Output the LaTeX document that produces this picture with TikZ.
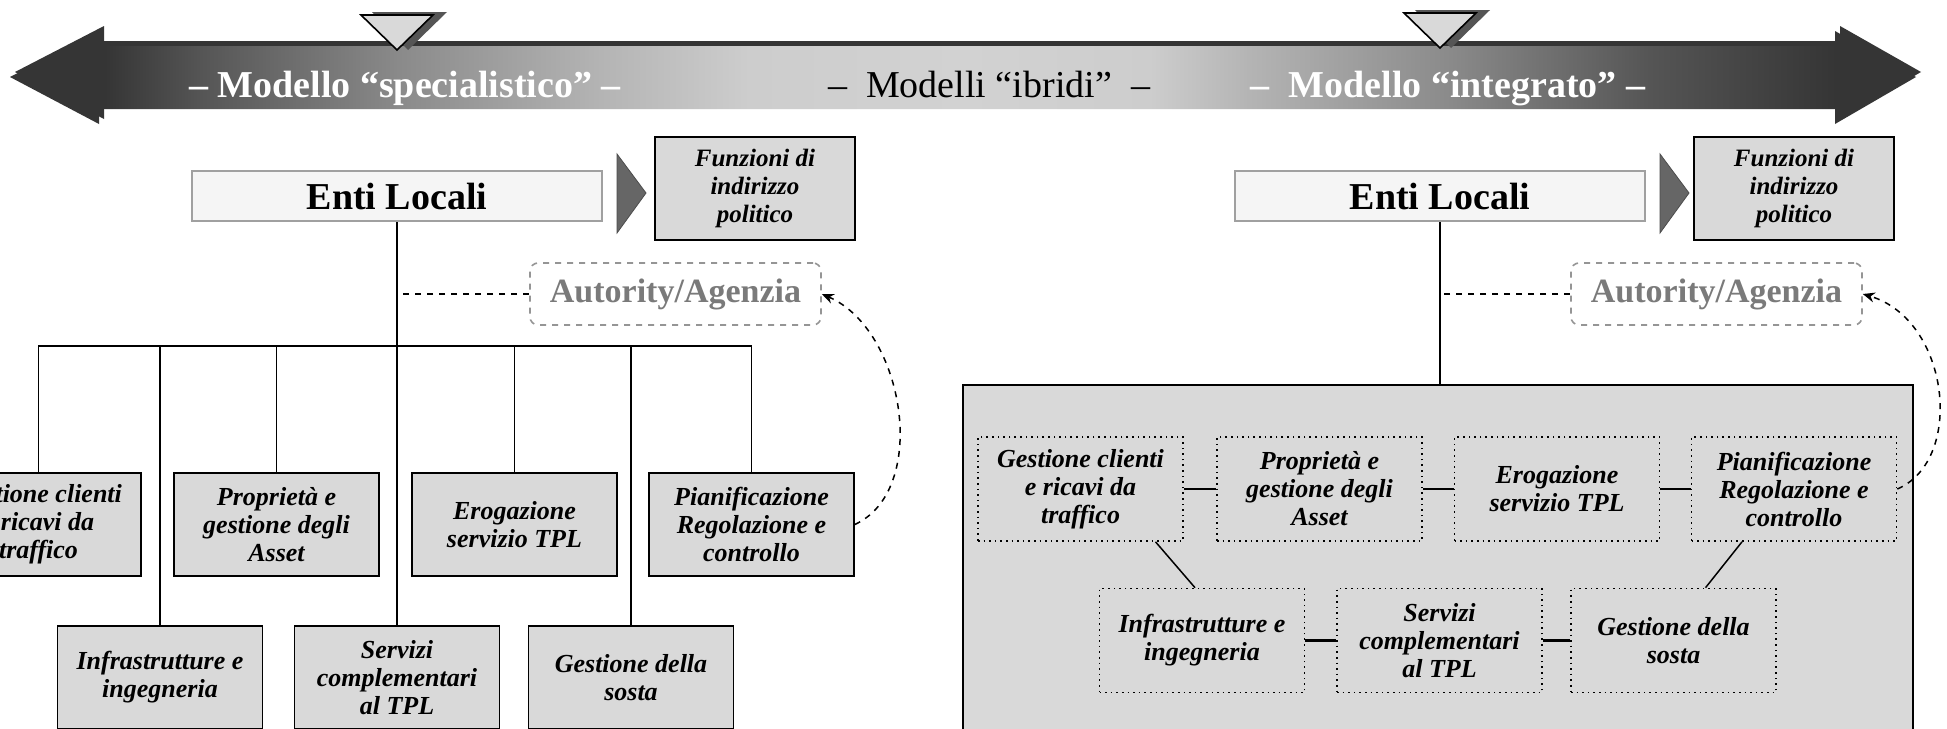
\documentclass[tikz,border=0pt]{standalone}
\usepackage{fontspec}
\setmainfont{Liberation Serif}
\usetikzlibrary{calc,arrows.meta}
\definecolor{boxgray}{HTML}{D9D9D9}
\definecolor{entifill}{HTML}{F5F5F5}
\definecolor{entiborder}{HTML}{A0A0A0}
\definecolor{autgray}{HTML}{7A7A7A}
\definecolor{ptrgray}{HTML}{666666}
\definecolor{shadowgray}{HTML}{555555}
\definecolor{sA}{HTML}{353535}
\definecolor{sB}{HTML}{555555}
\definecolor{sC}{HTML}{8A8A8A}
\definecolor{sD}{HTML}{B4B4B4}
\definecolor{sE}{HTML}{CDCDCD}
\definecolor{sF}{HTML}{D2D2D2}
\pgfdeclarehorizontalshading{arrowshade}{100bp}{color(0bp)=(sA); color(25bp)=(sA); color(27.5bp)=(sA); color(30bp)=(sB); color(35.2bp)=(sC); color(40.5bp)=(sD); color(44.4bp)=(sE); color(50bp)=(sF); color(54.9bp)=(sE); color(57.5bp)=(sD); color(62.8bp)=(sC); color(68bp)=(sB); color(72.9bp)=(sA); color(75bp)=(sA); color(100bp)=(sA)}
\tikzset{
  toplbl/.style={font=\fontsize{19pt}{22pt}\selectfont\bfseries, inner sep=0pt, anchor=base},
  midlbl/.style={font=\fontsize{19pt}{22pt}\selectfont, inner sep=0pt, anchor=base},
  enti/.style={draw=entiborder, line width=1.2pt, fill=entifill, minimum width=205pt, minimum height=25pt, inner sep=0pt, font=\fontsize{19pt}{22pt}\selectfont\bfseries},
  funbox/.style={draw, line width=0.8pt, fill=boxgray, minimum width=100pt, minimum height=51.5pt, inner sep=0pt, align=center, font=\fontsize{12.5pt}{14pt}\selectfont\bfseries\itshape},
  orgbox/.style={draw, line width=0.8pt, fill=boxgray, minimum width=102.5pt, minimum height=51.5pt, inner sep=0pt, align=center, font=\fontsize{13pt}{14pt}\selectfont\bfseries\itshape},
  dotbox/.style={draw, dotted, line width=0.8pt, minimum width=102.5pt, minimum height=52pt, inner sep=0pt, align=center, font=\fontsize{13pt}{14pt}\selectfont\bfseries\itshape},
  autbox/.style={draw=autgray!80, dashed, rounded corners=4pt, line width=0.8pt, minimum width=145.5pt, minimum height=31pt, inner sep=0pt, text=autgray, font=\fontsize{17pt}{20pt}\selectfont\bfseries},
  bigbox/.style={draw, line width=0.9pt, fill=boxgray, minimum width=475pt, minimum height=180pt, inner sep=0pt},
  conn/.style={line width=0.75pt},
  iconn/.style={line width=1.1pt},
  dconn/.style={line width=0.75pt, dashed},
  carrow/.style={line width=0.75pt, dashed, -{Stealth[length=6pt,width=5pt]}}
}
\begin{document}
\begin{tikzpicture}[x=0.5pt,y=-0.5pt]
\useasboundingbox (0,0) rectangle (1947,728);
\clip (0,0) rectangle (1947,728);
\fill[white] (0,0) rectangle (1947,728);

% ---- big double arrow ----
\begin{scope}[shift={(5,-5)}]
\fill[sA] (10,77) -- (99,31) -- (99,46) -- (1835,46) -- (1835,31) -- (1916,77) -- (1835,124) -- (1835,109) -- (99,109) -- (99,124) -- cycle;
\end{scope}
\shade[shading=arrowshade] (10,77) -- (99,31) -- (99,46) -- (1835,46) -- (1835,31) -- (1916,77) -- (1835,124) -- (1835,109) -- (99,109) -- (99,124) -- cycle;

% top markers
\fill[shadowgray] (372,12) -- (447,12) -- (408,50) -- cycle;
\draw[fill=boxgray, line width=0.8pt] (361,15) -- (433,15) -- (397,50) -- cycle;
\fill[shadowgray] (1415,10) -- (1490,10) -- (1451,48) -- cycle;
\draw[fill=boxgray, line width=0.8pt] (1404,13) -- (1476,13) -- (1440,48) -- cycle;

\node[toplbl, text=white] (lblA) at (405,97) {– Modello “specialistico” –};
\node[midlbl, text=black] (lblB) at (989,97) {–\ \ Modelli “ibridi”\ \ –};
\node[toplbl, text=white] (lblC) at (1448,97) {–\ \ Modello “integrato” –};

% ---- left panel ----
\node[enti] (e1) at (397,196) {Enti Locali};
\fill[ptrgray, draw=black!70, line width=0.4pt] (617,154) -- (646,193) -- (617,233) -- cycle;
\node[funbox] (f1) at (755,188.5) {Funzioni di\\indirizzo\\politico};
\node[autbox] (a1) at (675.5,294) {Autority/Agenzia};

\node[orgbox] (g1) at (38.5,524.5) {Gestione clienti\\e ricavi da\\traffico};
\node[orgbox] (p2) at (276.5,524.5) {Proprietà e\\gestione degli\\Asset};
\node[orgbox] (p3) at (514.5,524.5) {Erogazione\\servizio TPL};
\node[orgbox] (p4) at (751.5,524.5) {Pianificazione\\Regolazione e\\controllo};
\node[orgbox] (i1) at (160,677.5) {Infrastrutture e\\ingegneria};
\node[orgbox] (i2) at (397,677.5) {Servizi\\complementari\\al TPL};
\node[orgbox] (i3) at (631,677.5) {Gestione della\\sosta};

\coordinate (bar) at (397,346);
\draw[conn] (e1.south) -- (i2.north);
\draw[conn] (g1.north) -- (g1.north |- bar) -- (p4.north |- bar) -- (p4.north);
\draw[line width=1.3pt] (p2.north |- bar) -- (p3.north |- bar);
\draw[conn] (p2.north) -- (p2.north |- bar);
\draw[conn] (p3.north) -- (p3.north |- bar);
\draw[conn] (i1.north) -- (i1.north |- bar);
\draw[conn] (i3.north) -- (i3.north |- bar);
\draw[dconn] (a1.west) -- (a1.west -| e1.south);
\draw[carrow] (p4.east) .. controls (930,490) and (905,330) .. (a1.east);

% ---- right panel ----
\node[enti] (e2) at (1440,196) {Enti Locali};
\fill[ptrgray, draw=black!70, line width=0.4pt] (1660,154) -- (1689,193) -- (1660,233) -- cycle;
\node[funbox] (f2) at (1794,188.5) {Funzioni di\\indirizzo\\politico};
\node[autbox] (a2) at (1716.5,294) {Autority/Agenzia};

\node[bigbox] (big) at (1438,565) {};
\draw[conn] (e2.south) -- (big.north -| e2.south);
\draw[dconn] (a2.west) -- (a2.west -| e2.south);

\node[dotbox] (r1) at (1080.5,489) {Gestione clienti\\e ricavi da\\traffico};
\node[dotbox] (r2) at (1319.5,489) {Proprietà e\\gestione degli\\Asset};
\node[dotbox] (r3) at (1557,489) {Erogazione\\servizio TPL};
\node[dotbox] (r4) at (1794,489) {Pianificazione\\Regolazione e\\controllo};
\node[dotbox] (s1) at (1202,640.5) {Infrastrutture e\\ingegneria};
\node[dotbox] (s2) at (1439.5,640.5) {Servizi\\complementari\\al TPL};
\node[dotbox] (s3) at (1673.5,640.5) {Gestione della\\sosta};

\draw[iconn] (r1.east) -- (r2.west);
\draw[iconn] (r2.east) -- (r3.west);
\draw[iconn] (r3.east) -- (r4.west);
\draw[iconn] (s1.east) -- (s2.west);
\draw[iconn] (s2.east) -- (s3.west);
\draw[conn] ($(r1.south)+(75,0)$) -- ($(s1.north)+(-7,0)$);
\draw[conn] ($(r4.south)+(-52,0)$) -- ($(s3.north)+(32,0)$);
\draw[carrow] (r4.east) .. controls (1965,460) and (1950,320) .. (a2.east);
\end{tikzpicture}
\end{document}
